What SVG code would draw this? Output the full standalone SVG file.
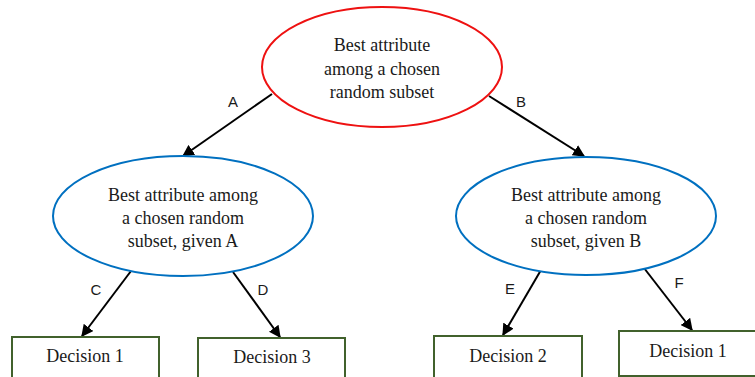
<svg xmlns="http://www.w3.org/2000/svg" width="755" height="377" viewBox="0 0 755 377">
<defs>
<style>
.t{font-family:"Liberation Serif","Times New Roman",serif;font-size:18px;fill:#1a1a1a;text-anchor:middle}
.l{font-family:"Liberation Sans",Arial,sans-serif;font-size:15px;fill:#1a1a1a;text-anchor:middle}
.e{fill:#fff;stroke-width:2}
.b{fill:#fff;stroke:#41612c;stroke-width:2}
.c{stroke:#000;stroke-width:2;fill:none;marker-end:url(#ah)}
</style>
<marker id="ah" viewBox="0 0 10 10" refX="9" refY="5" markerWidth="6" markerHeight="6" markerUnits="strokeWidth" orient="auto">
<path d="M0,0 L10,5 L0,10 z" fill="#000"/>
</marker>
</defs>
<rect width="755" height="377" fill="#fff"/>
<g id="connectors">
<line class="c" x1="272" y1="94" x2="183" y2="156"/>
<line class="c" x1="489" y1="96" x2="584" y2="156"/>
<line class="c" x1="131" y1="271" x2="82" y2="336"/>
<line class="c" x1="233" y1="272" x2="280" y2="337"/>
<line class="c" x1="541" y1="270" x2="503" y2="335"/>
<line class="c" x1="644" y1="268" x2="692" y2="330"/>
<text class="l" x="233" y="107">A</text>
<text class="l" x="521" y="107">B</text>
<text class="l" x="96" y="295">C</text>
<text class="l" x="263" y="295">D</text>
<text class="l" x="510" y="294">E</text>
<text class="l" x="679" y="288">F</text>
</g>
<g id="root">
<ellipse class="e" stroke="#ee1111" cx="382" cy="67" rx="120" ry="60"/>
<text class="t" x="382" y="51">Best attribute</text>
<text class="t" x="382" y="75">among a chosen</text>
<text class="t" x="382" y="98">random subset</text>
</g>
<g id="nodeA">
<ellipse class="e" stroke="#0070c0" cx="183" cy="216" rx="130" ry="60"/>
<text class="t" x="183" y="201">Best attribute among</text>
<text class="t" x="183" y="224">a chosen random</text>
<text class="t" x="183" y="247">subset, given A</text>
</g>
<g id="nodeB">
<ellipse class="e" stroke="#0070c0" cx="586" cy="216" rx="130" ry="59"/>
<text class="t" x="586" y="201">Best attribute among</text>
<text class="t" x="586" y="224">a chosen random</text>
<text class="t" x="586" y="247">subset, given B</text>
</g>
<g id="dec1">
<rect class="b" x="12" y="337" width="147" height="50"/>
<text class="t" x="85" y="362">Decision 1</text>
</g>
<g id="dec3">
<rect class="b" x="198" y="338" width="147" height="50"/>
<text class="t" x="272" y="363">Decision 3</text>
</g>
<g id="dec2">
<rect class="b" x="434" y="336" width="148" height="50"/>
<text class="t" x="508" y="362">Decision 2</text>
</g>
<g id="dec1b">
<rect class="b" x="619" y="331" width="140" height="45"/>
<text class="t" x="688" y="357">Decision 1</text>
</g>
</svg>
